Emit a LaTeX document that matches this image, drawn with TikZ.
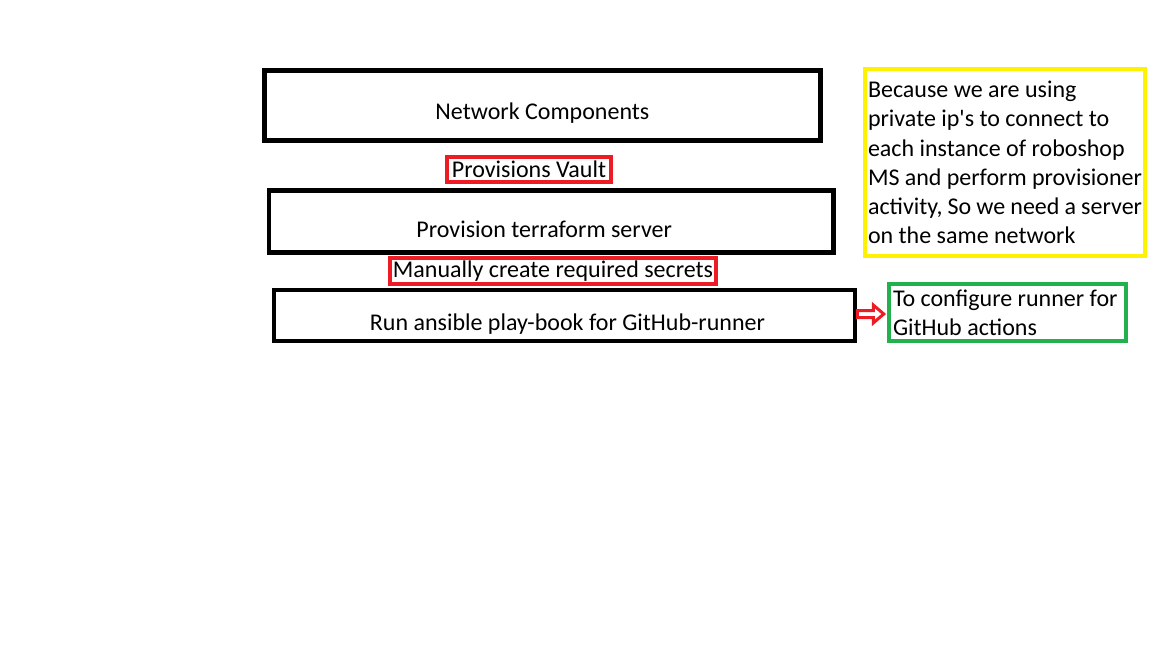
\documentclass[tikz,border=0pt]{standalone}
\usepackage{fontspec}
\setmainfont{Carlito}

\definecolor{boxred}{HTML}{ED1C24}
\definecolor{noteyellow}{HTML}{FFF200}
\definecolor{notegreen}{HTML}{22B14C}

\begin{document}
\begin{tikzpicture}[x=1pt,y=-1pt]
        \tikzset{every node/.style={font=\fontsize{24}{29.3}\selectfont,inner sep=0pt},
            stepbox/.style={draw,line width=4.5pt,text depth=0pt},
            tagbox/.style={draw=boxred,line width=4pt,text depth=0pt},
            notebox/.style={line width=4pt,align=flush left,inner sep=3pt},
            blockarrow/.style={draw=boxred,line width=3pt,fill=white,line join=miter}}
        \useasboundingbox (0,0) rectangle (1152,648);
        % steps
        \node[stepbox,minimum width=556pt,minimum height=70pt,text height=27.4pt] (net) at (542.4,105.3) {Network Components};
        \node[tagbox,minimum width=164pt,minimum height=25pt,text height=15pt] (vault) at (529,169.5) {Provisions Vault};
        \node[stepbox,minimum width=564.4pt,minimum height=61.7pt,text height=31.8pt] (tfserver) at (551.2,221.4) {Provision terraform server\hspace*{14pt}};
        \node[tagbox,minimum width=326pt,minimum height=26pt,text height=12pt] (secrets) at (553,271) {Manually create required secrets};
        \node[stepbox,minimum width=581pt,minimum height=51.3pt,text height=29.2pt] (run) at (564.5,315.4) {\hspace*{6pt}Run ansible play-book for GitHub-runner};
        % notes
        \node[notebox,draw=noteyellow,text width=274pt,minimum height=187pt] (why) at (1005,162.5)
            {Because we are using\\private ip\textquotesingle s to connect to\\each instance of roboshop\\MS and perform provisioner\\activity, So we need a server\\on the same network};
        \node[notebox,draw=notegreen,line width=3.5pt,inner sep=4pt,text width=229pt,minimum height=57pt] (runner) at (1007.5,312.5)
            {To configure runner for\\GitHub actions};
        % hollow arrow
        \draw[blockarrow,shift={(run.east)}] (0,-4.9) -- (16,-4.9) -- (16,-10.4) -- (26.5,-1.4)
            -- (16,7.6) -- (16,2.1) -- (0,2.1) -- cycle;
    \end{tikzpicture}
\end{document}
